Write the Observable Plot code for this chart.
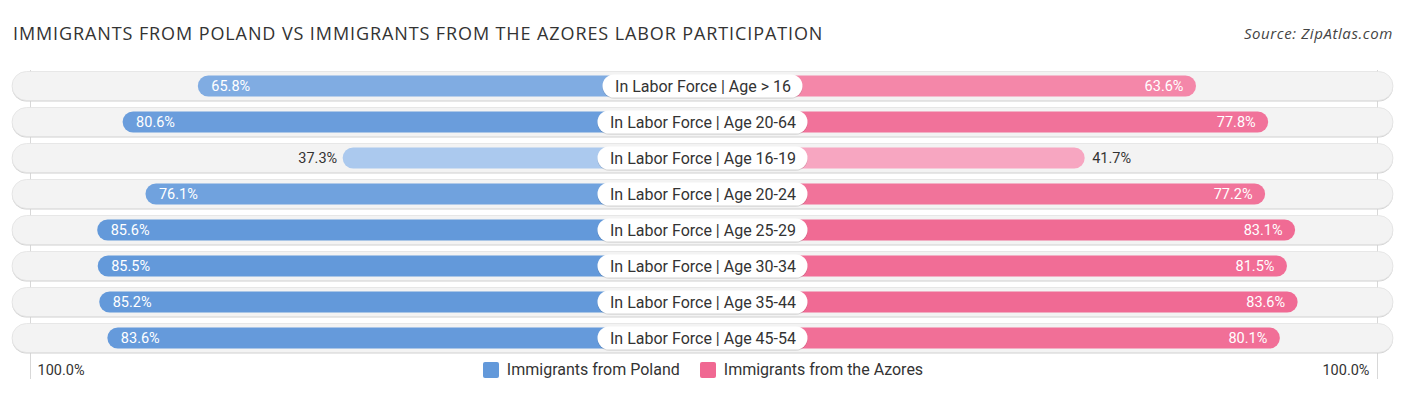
<!DOCTYPE html>
<html>
<head>
<meta charset="utf-8">
<script src="https://cdn.jsdelivr.net/npm/d3@7"></script>
<script src="https://cdn.jsdelivr.net/npm/@observablehq/plot@0.6"></script>
<style>
  html, body { margin: 0; padding: 0; background: #fff; }
  #wrap { position: relative; width: 1406px; height: 395px; overflow: hidden; font-family: Roboto, sans-serif; }
  #title { position: absolute; left: 13px; top: 21px; font-family: "Open Sans", sans-serif; font-size: 18px; line-height: 24px; color: #333; letter-spacing: 0.9px; white-space: nowrap; }
  #source { position: absolute; right: 13px; top: 23px; font-family: "Open Sans", sans-serif; font-style: italic; font-size: 15px; line-height: 20px; color: #444; letter-spacing: 0.6px; white-space: nowrap; }
  #chart { position: absolute; left: 0; top: 60px; }
  #legend { position: absolute; left: 0; width: 1406px; top: 361px; display: flex; justify-content: center; gap: 20px; font-family: Roboto, sans-serif; font-size: 16px; color: #333; line-height: 18px; padding-left: 0px; box-sizing: border-box; }
  .item { display: flex; align-items: center; gap: 8px; }
  .sw { width: 16px; height: 16px; border-radius: 2px; display: inline-block; }
</style>
</head>
<body>
<div id="wrap">
  <div id="title">IMMIGRANTS FROM POLAND VS IMMIGRANTS FROM THE AZORES LABOR PARTICIPATION</div>
  <div id="source">Source: ZipAtlas.com</div>
  <div id="chart"></div>
  <div id="legend"></div>
</div>
<script>
const categories = [
  "In Labor Force | Age > 16",
  "In Labor Force | Age 20-64",
  "In Labor Force | Age 16-19",
  "In Labor Force | Age 20-24",
  "In Labor Force | Age 25-29",
  "In Labor Force | Age 30-34",
  "In Labor Force | Age 35-44",
  "In Labor Force | Age 45-54"
];
const poland = [65.8, 80.6, 37.3, 76.1, 85.6, 85.5, 85.2, 83.6];
const azores = [63.6, 77.8, 41.7, 77.2, 83.1, 81.5, 83.6, 80.1];
const seriesNames = ["Immigrants from Poland", "Immigrants from the Azores"];
const axisMax = 100;
const axisLabels = ["100.0%", "100.0%"];

const off = 33.5;            // half-gap at centre, in value units
const full = axisMax + off;
const blueC = d3.scaleLinear().domain([37, 85]).range(["#abc9ee", "#6399da"]).clamp(true);
const pinkC = d3.scaleLinear().domain([37, 85]).range(["#f8adc6", "#f06892"]).clamp(true);

const rows = categories.map((c, i) => ({cat: c, poland: poland[i], azores: azores[i]}));
const fmt = v => v.toFixed(1) + "%";
const inside = 50;

const ctx = document.createElement("canvas").getContext("2d");
ctx.font = "16px Roboto";

const labelMarks = [];
rows.forEach(r => {
  const w = ctx.measureText(r.cat).width + 24;
  const opts = {x1: () => 0, x2: () => 0, y: "cat", insetLeft: -w / 2, insetRight: -w / 2, insetTop: 6.5, insetBottom: 6.5, rx: 11.5};
  labelMarks.push(Plot.barX([r], {...opts, fill: "#000", fillOpacity: 0.12, dy: 1.2}));
  labelMarks.push(Plot.barX([r], {...opts, fill: "#fff"}));
});

const chart = Plot.plot({
  width: 1406, height: 335,
  marginTop: 7, marginBottom: 39, marginLeft: 24, marginRight: 25,
  x: {domain: [-full, full], axis: null},
  y: {domain: categories, axis: null, padding: 0},
  marks: [
    Plot.ruleX([-full], {stroke: "#d8d8d8", strokeWidth: 1, dx: 6, insetTop: 3, insetBottom: -23}),
    Plot.ruleX([full], {stroke: "#d8d8d8", strokeWidth: 1, dx: -4, insetTop: 3, insetBottom: -23}),
    Plot.barX(rows, {x1: () => -full, x2: () => full, y: "cat", insetTop: 3.5, insetBottom: 3.5, insetLeft: -12, insetRight: -12, rx: 14.5, fill: "#cfcfcf", dy: 1}),
    Plot.barX(rows, {x1: () => -full, x2: () => full, y: "cat", insetTop: 3.5, insetBottom: 3.5, insetLeft: -12, insetRight: -12, rx: 14.5, fill: "#f3f3f3", stroke: "#e2e2e2", strokeWidth: 0.8}),
    Plot.barX(rows, {x1: () => 0, x2: d => -(off + d.poland), y: "cat", insetTop: 7.5, insetBottom: 7.5, rx: 10.5, fill: d => blueC(d.poland)}),
    Plot.barX(rows, {x1: () => 0, x2: d => off + d.azores, y: "cat", insetTop: 7.5, insetBottom: 7.5, rx: 10.5, fill: d => pinkC(d.azores)}),
    Plot.text(rows.filter(d => d.poland >= inside), {x: d => -(off + d.poland), y: "cat", text: d => fmt(d.poland), textAnchor: "start", dx: 13, fill: "#fff", fontSize: 14.5, fontFamily: "Roboto"}),
    Plot.text(rows.filter(d => d.poland < inside), {x: d => -(off + d.poland), y: "cat", text: d => fmt(d.poland), textAnchor: "end", dx: -6, fill: "#333", fontSize: 14.5, fontFamily: "Roboto"}),
    Plot.text(rows.filter(d => d.azores >= inside), {x: d => off + d.azores, y: "cat", text: d => fmt(d.azores), textAnchor: "end", dx: -13, fill: "#fff", fontSize: 14.5, fontFamily: "Roboto"}),
    Plot.text(rows.filter(d => d.azores < inside), {x: d => off + d.azores, y: "cat", text: d => fmt(d.azores), textAnchor: "start", dx: 7, fill: "#333", fontSize: 14.5, fontFamily: "Roboto"}),
    ...labelMarks,
    Plot.text(rows, {x: () => 0, y: "cat", text: "cat", fill: "#333", fontSize: 16, fontFamily: "Roboto"}),
    Plot.text([axisLabels[0]], {x: () => -full, text: d => d, frameAnchor: "bottom", dy: 18, dx: 13, textAnchor: "start", fill: "#333", fontSize: 14.5, fontFamily: "Roboto"}),
    Plot.text([axisLabels[1]], {x: () => full, text: d => d, frameAnchor: "bottom", dy: 18, dx: -12, textAnchor: "end", fill: "#333", fontSize: 14.5, fontFamily: "Roboto"})
  ]
});
document.getElementById("chart").appendChild(chart);

const legend = document.getElementById("legend");
[["#6399da", seriesNames[0]], ["#f06892", seriesNames[1]]].forEach(([c, n]) => {
  const it = document.createElement("div");
  it.className = "item";
  it.innerHTML = `<span class="sw" style="background:${c}"></span><span>${n}</span>`;
  legend.appendChild(it);
});
</script>
</body>
</html>
